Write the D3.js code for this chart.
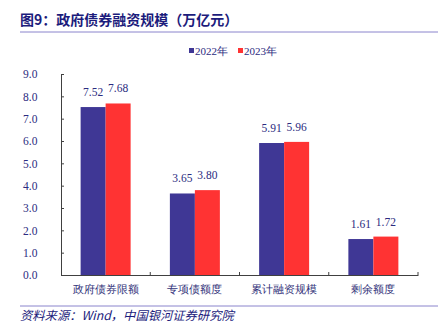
<!DOCTYPE html>
<html>
<head>
<meta charset="utf-8">
<script src="https://cdn.jsdelivr.net/npm/d3@7"></script>
<style>
  body { margin: 0; background: #fff; }
  svg text { font-family: "Liberation Serif", "Times New Roman", serif; }
  .cjk { font-family: "Noto Sans CJK SC", sans-serif; }
</style>
</head>
<body>
<div id="chart"></div>
<script>
// chart data
const categories = ["政府债券限额", "专项债额度", "累计融资规模", "剩余额度"];
const seriesNames = ["2022年", "2023年"];
const values2022 = [7.52, 3.65, 5.91, 1.61];
const values2023 = [7.68, 3.80, 5.96, 1.72];
const yTicks = [0, 1, 2, 3, 4, 5, 6, 7, 8, 9];

const colors = ["#3f3795", "#ff3333"];
const textBlue = "#2b2b80";

const width = 442, height = 323;
const margin = { top: 74, right: 24, bottom: 48, left: 61 };
const innerW = width - margin.left - margin.right;
const innerH = height - margin.top - margin.bottom;

const svg = d3.select("#chart").append("svg")
    .attr("width", width)
    .attr("height", height);

// title + rules
svg.append("text")
    .attr("class", "cjk")
    .attr("x", 20).attr("y", 25)
    .attr("font-size", 14).attr("font-weight", "bold")
    .attr("fill", "#1c1c7c")
    .text("图9：政府债券融资规模（万亿元）");
svg.append("line")
    .attr("x1", 20).attr("x2", 438).attr("y1", 32).attr("y2", 32)
    .attr("stroke", "#8a84cc").attr("stroke-width", 1);
svg.append("line")
    .attr("x1", 20).attr("x2", 438).attr("y1", 306).attr("y2", 306)
    .attr("stroke", "#8a84cc").attr("stroke-width", 1);
svg.append("text")
    .attr("class", "cjk")
    .attr("x", 20).attr("y", 320)
    .attr("font-size", 12.3).attr("font-style", "italic")
    .attr("fill", "#1c1c7c")
    .text("资料来源：Wind，中国银河证券研究院");

// legend
const legend = svg.append("g").attr("transform", "translate(189,46)");
seriesNames.forEach(function (name, i) {
    const g = legend.append("g").attr("transform", "translate(" + (i * 49) + ",0)");
    g.append("rect").attr("width", 5).attr("height", 5).attr("y", 2).attr("fill", colors[i]);
    g.append("text").attr("x", 6).attr("y", 8.5)
        .attr("font-size", 11).attr("fill", textBlue)
        .text(name);
});

const g = svg.append("g")
    .attr("transform", "translate(" + margin.left + "," + margin.top + ")");

const x = d3.scaleBand().domain(categories).range([0, innerW]).paddingInner(0).paddingOuter(0);
const x1 = d3.scaleBand().domain(seriesNames).range([0, 50]);
const y = d3.scaleLinear().domain([0, 9]).range([innerH, 0]);

const rows = categories.map(function (c, i) {
    return { cat: c, vals: [values2022[i], values2023[i]] };
});

const groups = g.selectAll(".grp")
    .data(rows)
    .enter().append("g")
    .attr("class", "grp")
    .attr("transform", function (d) {
        return "translate(" + (x(d.cat) + (x.bandwidth() - 50) / 2) + ",0)";
    });

groups.selectAll("rect")
    .data(function (d) { return d.vals.map(function (v, i) { return { s: seriesNames[i], v: v, i: i }; }); })
    .enter().append("rect")
    .attr("x", function (d) { return x1(d.s); })
    .attr("width", x1.bandwidth())
    .attr("y", function (d) { return y(d.v); })
    .attr("height", function (d) { return innerH - y(d.v); })
    .attr("fill", function (d) { return colors[d.i]; });

groups.selectAll("text.val")
    .data(function (d) { return d.vals.map(function (v, i) { return { s: seriesNames[i], v: v }; }); })
    .enter().append("text")
    .attr("class", "val")
    .attr("x", function (d) { return x1(d.s) + x1.bandwidth() / 2; })
    .attr("y", function (d) { return y(d.v) - 11; })
    .attr("text-anchor", "middle")
    .attr("font-size", 11.5)
    .attr("fill", textBlue)
    .text(function (d) { return d.v.toFixed(2); });

// y axis
const yAxis = g.append("g")
    .call(d3.axisLeft(y).tickValues(yTicks).tickSize(-3).tickPadding(17)
        .tickFormat(function (d) { return d.toFixed(1); }));
yAxis.select(".domain").attr("stroke", "#404040");
yAxis.selectAll(".tick line").attr("stroke", "#404040");
yAxis.selectAll("text")
    .attr("font-family", "Liberation Serif, serif")
    .attr("font-size", 11.5).attr("fill", textBlue)
    .attr("text-anchor", "start").attr("x", -38);

// x axis
const xAxis = g.append("g")
    .attr("transform", "translate(0," + innerH + ")")
    .call(d3.axisBottom(x).tickSize(0).tickPadding(10));
xAxis.select(".domain").attr("stroke", "#404040");
xAxis.selectAll("text")
    .attr("font-family", "Noto Sans CJK SC, sans-serif")
    .attr("font-size", 11).attr("fill", "#33337a");
// separators between categories
g.selectAll(".sep")
    .data(categories.slice(1).concat([null]))
    .enter().append("line")
    .attr("x1", function (d, i) { return x(categories[i]) + x.bandwidth(); })
    .attr("x2", function (d, i) { return x(categories[i]) + x.bandwidth(); })
    .attr("y1", innerH).attr("y2", innerH - 3)
    .attr("stroke", "#404040");
</script>
</body>
</html>
